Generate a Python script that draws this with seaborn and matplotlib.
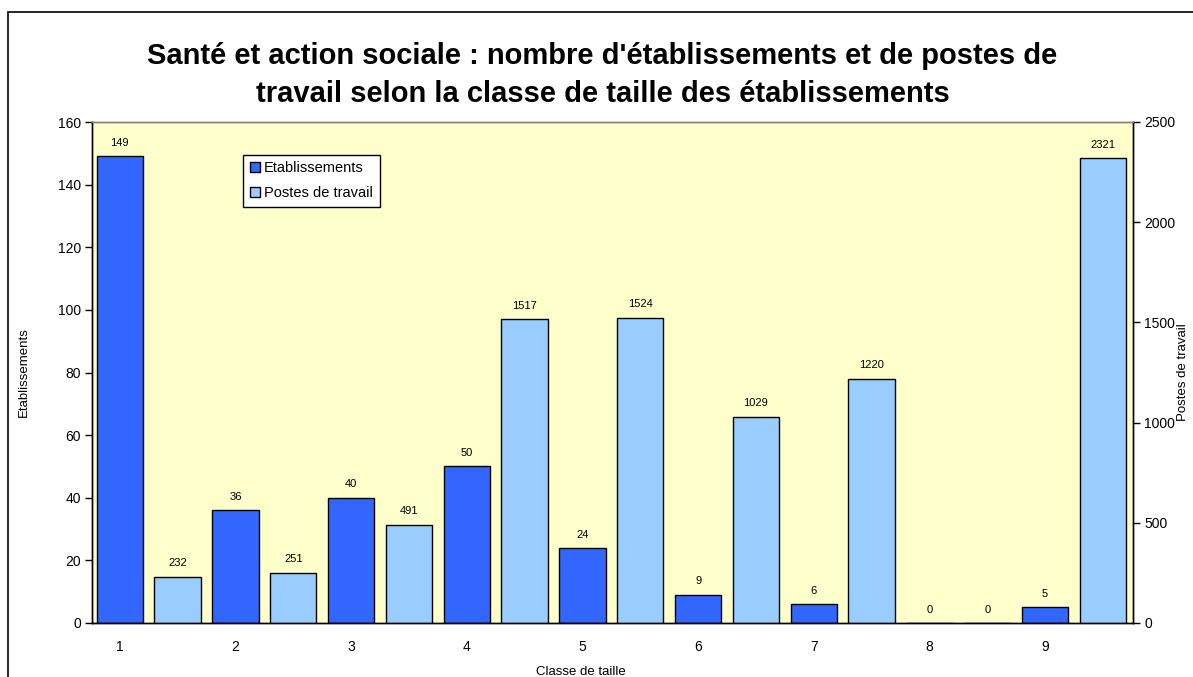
import matplotlib
matplotlib.use("Agg")
import matplotlib.pyplot as plt
import matplotlib.patches as mpatches
import seaborn as sns
import numpy as np
import pandas as pd

# data
classes = [1, 2, 3, 4, 5, 6, 7, 8, 9]
etablissements = [149, 36, 40, 50, 24, 9, 6, 0, 5]
postes = [232, 251, 491, 1517, 1524, 1029, 1220, 0, 2321]

dark = "#3366FF"
light = "#99CCFF"

sns.set_theme(style="white")
plt.rcParams["font.family"] = ["Liberation Sans", "DejaVu Sans"]
plt.rcParams["text.color"] = "black"
plt.rcParams["axes.labelcolor"] = "black"
plt.rcParams["xtick.color"] = "black"
plt.rcParams["ytick.color"] = "black"

fig = plt.figure(figsize=(11.93, 6.77), dpi=100)
ax = fig.add_axes([92 / 1193, 1 - 623 / 677, (1133 - 92) / 1193, (623 - 122) / 677])
ax2 = ax.twinx()

# outer chart border
fig.patches.append(mpatches.Rectangle((8 / 1193, -0.02), 1.0, 1 - 12 / 677 + 0.02,
                                      transform=fig.transFigure, fill=False,
                                      edgecolor="black", linewidth=1.2, zorder=0))

df_e = pd.DataFrame({"x": np.array(classes) - 0.26, "v": etablissements})
df_p = pd.DataFrame({"x": np.array(classes) + 0.24, "v": postes})

sns.barplot(data=df_e, x="x", y="v", native_scale=True, width=0.40, color=dark,
            saturation=1, edgecolor="black", linewidth=1, ax=ax)
sns.barplot(data=df_p, x="x", y="v", native_scale=True, width=0.40, color=light,
            saturation=1, edgecolor="black", linewidth=1, ax=ax2)

ax.set_facecolor("#FFFFCC")

ax.set_xlim(0.5, 9.5)
ax.set_ylim(0, 160)
ax2.set_ylim(0, 2500)
ax.set_yticks(np.arange(0, 161, 20))
ax2.set_yticks(np.arange(0, 2501, 500))

# category boundaries as tick marks, labels under the dark bars
ax.set_xticks(np.arange(0.5, 9.6, 1.0))
ax.set_xticklabels([])
ax.set_xticks(np.array(classes) - 0.26, minor=True)
ax.set_xticklabels([str(c) for c in classes], minor=True)
ax.tick_params(axis="x", which="major", direction="inout", length=8, width=1, color="#333333")
ax.tick_params(axis="x", which="minor", length=0, pad=12, labelsize=10)
ax.tick_params(axis="y", direction="out", length=5, width=1, labelsize=10, left=True, pad=3)
ax2.tick_params(axis="y", direction="out", length=5, width=1, labelsize=10, right=True, pad=3)

for a in (ax, ax2):
    for s in a.spines.values():
        s.set_color("black")
        s.set_linewidth(1)
ax2.spines["top"].set_color("#808080")
ax.spines["top"].set_color("#808080")

ax.set_xlabel("Classe de taille", fontsize=9.5, labelpad=4)
ax.xaxis.set_label_coords(0.47, -0.085)
ax.set_ylabel("Etablissements", fontsize=9.5, labelpad=20)
ax2.set_ylabel("Postes de travail", fontsize=9.5)
ax2.yaxis.set_label_coords(1.0425, 0.5)

# value labels
for x, v in zip(df_e["x"], etablissements):
    ax.annotate(str(v), (x, v), xytext=(0, 6), textcoords="offset points",
                ha="center", va="bottom", fontsize=8)
for x, v in zip(df_p["x"], postes):
    ax2.annotate(str(v), (x, v), xytext=(0, 6), textcoords="offset points",
                 ha="center", va="bottom", fontsize=8)

handles = [mpatches.Patch(facecolor=dark, edgecolor="black", label="Etablissements"),
           mpatches.Patch(facecolor=light, edgecolor="black", label="Postes de travail")]
leg = ax2.legend(handles=handles, loc="upper left", bbox_to_anchor=(0.145, 0.935),
                 fontsize=10.5, frameon=True, fancybox=False, handlelength=0.7,
                 handleheight=0.7, handletextpad=0.3, borderpad=0.45, labelspacing=0.75,
                 borderaxespad=0)
leg.get_frame().set_edgecolor("black")
leg.get_frame().set_linewidth(1)
leg.get_frame().set_facecolor("white")
leg.get_frame().set_alpha(1)

fig.text(0.505, 1 - 75 / 677, "Santé et action sociale : nombre d'établissements et de postes de\n"
         "travail selon la classe de taille des établissements",
         ha="center", va="center", fontsize=21, fontweight="bold", linespacing=1.45)

fig.savefig("out.png", dpi=100)
plt.close(fig)
